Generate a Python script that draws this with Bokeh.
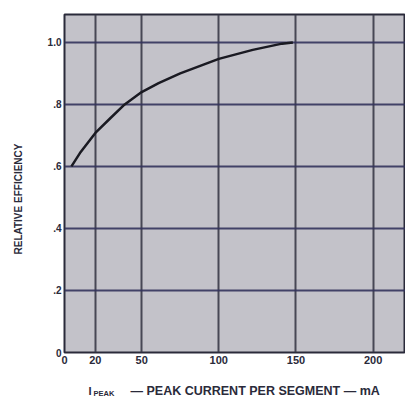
import math
from bokeh.plotting import figure
from bokeh.layouts import column, row
from bokeh.models import FixedTicker, Range1d
from bokeh.core.properties import value
from bokeh.embed import file_html
from bokeh.resources import INLINE

# data
current_ma = [4.5, 10, 20, 30, 39, 50, 61, 75, 100, 122, 141, 148]
rel_eff = [0.60, 0.643, 0.708, 0.757, 0.80, 0.84, 0.869, 0.90, 0.947, 0.976, 0.996, 1.0]
x_ticks = [0, 20, 50, 100, 150, 200]
y_ticks = [0, 0.2, 0.4, 0.6, 0.8, 1.0]
y_tick_labels = {0: "0", 0.2: ".2", 0.4: ".4", 0.6: ".6", 0.8: ".8", 1.0: "1.0"}
y_title = "RELATIVE EFFICIENCY"
x_title_main = "I"
x_title_sub = "PEAK"
x_title_rest = "— PEAK CURRENT PER SEGMENT — mA"

FONT = "Liberation Sans"
INK = "#2a2a3a"


def blank(w, h):
    f = figure(width=w, height=h, output_backend="svg", toolbar_location=None,
               x_range=Range1d(0, w), y_range=Range1d(0, h),
               min_border_left=0, min_border_right=0, min_border_top=0, min_border_bottom=0)
    f.axis.visible = False
    f.grid.visible = False
    f.outline_line_color = None
    f.background_fill_color = "white"
    f.border_fill_color = "white"
    return f


# main chart
p = figure(width=375, height=370, output_backend="svg", toolbar_location=None,
           x_range=Range1d(0, 221), y_range=Range1d(0, 1.09),
           min_border_left=34, min_border_right=0, min_border_top=14, min_border_bottom=18)
p.background_fill_color = "#c3c2c9"
p.border_fill_color = "white"
p.outline_line_color = INK
p.outline_line_width = 2

p.xaxis.ticker = FixedTicker(ticks=x_ticks)
p.yaxis.ticker = FixedTicker(ticks=y_ticks)
p.yaxis.major_label_overrides = y_tick_labels
for ax in (p.xaxis, p.yaxis):
    ax.axis_line_color = None
    ax.major_tick_in = 0
    ax.major_tick_out = 0
    ax.minor_tick_line_color = None
    ax.major_label_text_font = FONT
    ax.major_label_text_font_style = "bold"
    ax.major_label_text_color = INK
p.xaxis.major_label_text_font_size = "11px"
p.yaxis.major_label_text_font_size = "10px"
p.xaxis.major_label_standoff = 3
p.yaxis.major_label_standoff = 3

p.xgrid.ticker = FixedTicker(ticks=x_ticks)
p.ygrid.ticker = FixedTicker(ticks=y_ticks)
p.xgrid.grid_line_color = "#3a3a48"
p.ygrid.grid_line_color = "#33335c"
for g in (p.xgrid, p.ygrid):
    g.grid_line_width = 2
    g.grid_line_alpha = 0.9

p.line(current_ma, rel_eff, line_color="#1a1a22", line_width=2.5)

# y title strip
ly = blank(30, 370)
ly.text(x=[17.5], y=[168], text=[y_title], angle=math.pi / 2,
        text_align="center", text_baseline="middle", text_font=value(FONT),
        text_font_style="bold", text_font_size="10px", text_color=INK)

# x title strip
lx = blank(405, 28)
lx.text(x=[88], y=[8], text=[x_title_main], text_align="left", text_baseline="alphabetic",
        text_font=value(FONT), text_font_style="bold", text_font_size="11px", text_color=INK)
lx.text(x=[93], y=[5.5], text=[x_title_sub], text_align="left", text_baseline="alphabetic",
        text_font=value(FONT), text_font_style="bold", text_font_size="7.5px", text_color=INK)
lx.text(x=[130], y=[8], text=[x_title_rest], text_align="left", text_baseline="alphabetic",
        text_font=value(FONT), text_font_style="bold", text_font_size="12.5px", text_color=INK)

layout = column(row(ly, p, spacing=0), lx, spacing=0)
open("out.html", "w").write(file_html(layout, INLINE))
